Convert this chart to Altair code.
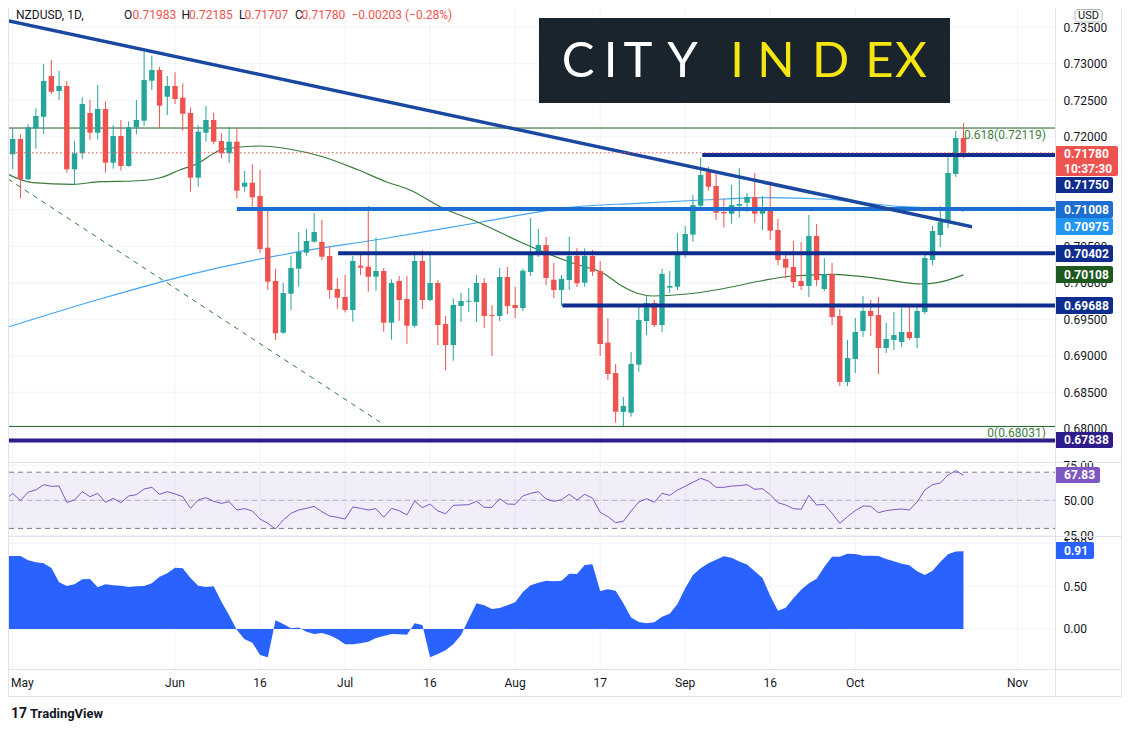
import altair as alt
import pandas as pd

# ---------------- data ----------------
opens = [
    0.71759, 0.71969, 0.71417, 0.72115, 0.72274, 0.72832, 0.72626, 0.72695, 0.71554, 0.71773,
    0.72325, 0.72055, 0.72380, 0.71644, 0.72010, 0.71599, 0.72129, 0.72219, 0.72767, 0.72914,
    0.72548, 0.72695, 0.72535, 0.72325, 0.71439, 0.72055, 0.72229, 0.71941, 0.71773, 0.71932,
    0.71315, 0.71370, 0.71188, 0.70480, 0.70023, 0.69315, 0.69849, 0.70192, 0.70411, 0.70562,
    0.70558, 0.70366, 0.69914, 0.69804, 0.69626, 0.70233, 0.70219, 0.70082, 0.70160, 0.69452,
    0.70023, 0.69777, 0.69411, 0.70297, 0.69763, 0.69996, 0.69434, 0.69146, 0.69681, 0.69740,
    0.69736, 0.69996, 0.69557, 0.69544, 0.70078, 0.69694, 0.69653, 0.70147, 0.70379, 0.70516,
    0.70041, 0.69900, 0.70037, 0.70366, 0.70000, 0.70366, 0.70160, 0.69178, 0.68763, 0.68229,
    0.68219, 0.68877, 0.69475, 0.69722, 0.69420, 0.69932, 0.69945, 0.70393, 0.70658, 0.71055,
    0.71517, 0.71325, 0.70969, 0.70945, 0.71055, 0.71096, 0.71174, 0.70945, 0.71028, 0.70722,
    0.70325, 0.70215, 0.70023, 0.69955, 0.70640, 0.69914, 0.70119, 0.69544, 0.68640, 0.68955,
    0.69338, 0.69612, 0.69557, 0.69105, 0.69215, 0.69188, 0.69325, 0.69242, 0.69599, 0.70311,
    0.70653, 0.70818, 0.71489, 0.71983]
highs = [
    0.72115, 0.72033, 0.72170, 0.72389, 0.72996, 0.73051, 0.72900, 0.72763, 0.71941, 0.72540,
    0.72503, 0.72708, 0.72480, 0.72160, 0.72229, 0.72211, 0.72503, 0.73165, 0.73110, 0.72959,
    0.72832, 0.72882, 0.72732, 0.72403, 0.72160, 0.72421, 0.72329, 0.72047, 0.72137, 0.72115,
    0.71530, 0.71622, 0.71544, 0.71028, 0.70188, 0.69996, 0.70370, 0.70695, 0.70736, 0.70955,
    0.70859, 0.70503, 0.70064, 0.70105, 0.70366, 0.70379, 0.71051, 0.70617, 0.70201, 0.70047,
    0.70092, 0.70092, 0.70434, 0.70444, 0.70379, 0.70037, 0.69544, 0.69786, 0.69863, 0.69927,
    0.70105, 0.70064, 0.69694, 0.70201, 0.70215, 0.69941, 0.70192, 0.70886, 0.70736, 0.70626,
    0.70270, 0.70105, 0.70626, 0.70475, 0.70471, 0.70448, 0.70297, 0.69512, 0.68886, 0.68434,
    0.69051, 0.69667, 0.69822, 0.69763, 0.70188, 0.70160, 0.70681, 0.70777, 0.71201, 0.71708,
    0.71589, 0.71530, 0.71147, 0.71338, 0.71571, 0.71229, 0.71503, 0.71188, 0.71389, 0.70873,
    0.70421, 0.70571, 0.70558, 0.70927, 0.70804, 0.70338, 0.70270, 0.69640, 0.69215, 0.69516,
    0.69818, 0.69763, 0.69804, 0.69448, 0.69599, 0.69653, 0.69694, 0.69681, 0.70421, 0.70777,
    0.71051, 0.71722, 0.72078, 0.72185]
lows = [
    0.71554, 0.71151, 0.71407, 0.71836, 0.72037, 0.72585, 0.72503, 0.71507, 0.71338, 0.71691,
    0.71959, 0.71959, 0.71507, 0.71562, 0.71534, 0.71589, 0.72033, 0.72151, 0.72640, 0.72115,
    0.72297, 0.72448, 0.72082, 0.71247, 0.71315, 0.71932, 0.71896, 0.71704, 0.71644, 0.71156,
    0.71247, 0.71041, 0.70411, 0.69900, 0.69215, 0.69300, 0.69626, 0.69945, 0.70370, 0.70548,
    0.70311, 0.69781, 0.69644, 0.69594, 0.69466, 0.70105, 0.69877, 0.69890, 0.69329, 0.69219,
    0.69479, 0.69160, 0.69384, 0.69640, 0.69749, 0.69146, 0.68804, 0.68931, 0.69462, 0.69599,
    0.69462, 0.69379, 0.68996, 0.69475, 0.69571, 0.69516, 0.69612, 0.70092, 0.70352, 0.69968,
    0.69790, 0.69681, 0.69900, 0.69941, 0.69945, 0.70092, 0.68996, 0.68667, 0.68082, 0.68031,
    0.68164, 0.68781, 0.69283, 0.69393, 0.69325, 0.69859, 0.69900, 0.70343, 0.70562, 0.71014,
    0.71260, 0.70859, 0.70754, 0.70808, 0.70891, 0.70969, 0.70822, 0.70726, 0.70585, 0.70238,
    0.70055, 0.69927, 0.69900, 0.69804, 0.69955, 0.69886, 0.69420, 0.68585, 0.68585, 0.68763,
    0.69256, 0.69270, 0.68749, 0.69037, 0.69078, 0.69119, 0.69215, 0.69105, 0.69571, 0.70242,
    0.70489, 0.70749, 0.71448, 0.71707]
closes = [
    0.71969, 0.71417, 0.72129, 0.72284, 0.72763, 0.72617, 0.72695, 0.71554, 0.71773, 0.72448,
    0.72055, 0.72380, 0.71644, 0.72010, 0.71599, 0.72129, 0.72229, 0.72777, 0.72914, 0.72425,
    0.72695, 0.72517, 0.72315, 0.71439, 0.72069, 0.72229, 0.71932, 0.71773, 0.71932, 0.71260,
    0.71370, 0.71170, 0.70462, 0.70014, 0.69307, 0.69859, 0.70201, 0.70421, 0.70571, 0.70695,
    0.70356, 0.69900, 0.69795, 0.69626, 0.70297, 0.70206, 0.70082, 0.70160, 0.69452, 0.69996,
    0.69763, 0.69411, 0.70297, 0.69763, 0.69996, 0.69420, 0.69146, 0.69694, 0.69749, 0.69753,
    0.69996, 0.69544, 0.69544, 0.70078, 0.69681, 0.69653, 0.70164, 0.70393, 0.70516, 0.70064,
    0.69900, 0.70051, 0.70366, 0.69992, 0.70366, 0.70151, 0.69160, 0.68749, 0.68233, 0.68311,
    0.68886, 0.69489, 0.69722, 0.69420, 0.70119, 0.69955, 0.70407, 0.70667, 0.71064, 0.71475,
    0.71315, 0.70959, 0.70951, 0.71064, 0.71078, 0.71174, 0.70945, 0.71028, 0.70712, 0.70311,
    0.70206, 0.70010, 0.69955, 0.70640, 0.70037, 0.70119, 0.69530, 0.68640, 0.68968, 0.69325,
    0.69612, 0.69544, 0.69105, 0.69229, 0.69283, 0.69325, 0.69242, 0.69612, 0.70338, 0.70708,
    0.70832, 0.71503, 0.71982, 0.71780]

# x-axis: trading-day index of each label
tick_idx = [0, 21, 32, 43, 54, 65, 76, 87, 98, 109, 130]
tick_lab = ["May", "Jun", "16", "Jul", "16", "Aug", "17", "Sep", "16", "Oct", "Nov"]
price_ticks = [0.680, 0.685, 0.690, 0.695, 0.700, 0.705, 0.710, 0.715, 0.720, 0.725, 0.730, 0.735]
hidden_ticks = [0.710, 0.715]   # covered by price tags in the reference
rsi_ticks = [25, 50, 75]
corr_ticks = [0.0, 0.5, 1.0]

# moving averages (sampled vertices)
sma50_idx = [-0.6, 2.6, 7.8, 11.3, 15.6, 19.1, 21.6, 23.8, 27.2, 32.0, 35.9, 40.1, 44.5, 48.4,
             51.4, 55.3, 60.5, 65.6, 69.1, 72.5, 76.4, 78.6, 80.8, 82.8, 87.2, 91.5, 96.7,
             100.9, 106.1, 111.8, 117.8, 119.6, 123]
sma50_val = [0.71485, 0.71370, 0.71348, 0.71384, 0.71393, 0.71438, 0.71544, 0.71626, 0.71828,
             0.71873, 0.71828, 0.71726, 0.71554, 0.71380, 0.71270, 0.71041, 0.70814, 0.70562,
             0.70403, 0.70266, 0.70129, 0.69969, 0.69855, 0.69818, 0.69845, 0.69910, 0.70023,
             0.70092, 0.70115, 0.70060, 0.69982, 0.70000, 0.70108]
sma200_idx = [-0.6, 11.3, 23.0, 35.9, 47.5, 60.5, 72.1, 80.8, 89.3, 98.0, 105.3, 115.2, 122.5, 123]
sma200_val = [0.69393, 0.69777, 0.70115, 0.70403, 0.70595, 0.70828, 0.71033, 0.71088, 0.71133,
              0.71165, 0.71143, 0.71041, 0.70996, 0.70975]

# drawings
trend_idx = [-0.608, 124.1]
trend_val = [0.73589, 0.70767]
dash_idx = [-0.608, 47.5]
dash_val = [0.71421, 0.68092]
level_val = [0.71750, 0.71008, 0.70402, 0.69688]
level_start = [89.2, 29.0, 42.1, 71.1]
fib_val = [0.72119, 0.68031]
fib_lab = ["0.618(0.72119)", "0(0.68031)"]
purple_level = 0.67838

# RSI (first value sits at the left edge)
rsi_edge = 52.59
rsi_vals = [
    54.96, 49.74, 55.91, 57.33, 61.13, 59.94, 60.18, 48.56, 50.22, 56.15,
    52.59, 54.96, 48.56, 51.40, 48.32, 53.06, 54.01, 58.04, 59.23, 54.25,
    56.15, 54.49, 52.59, 44.29, 50.22, 51.88, 49.27, 47.84, 49.03, 43.10,
    44.05, 42.39, 36.70, 33.61, 29.58, 35.98, 40.73, 43.10, 44.29, 45.71,
    41.91, 38.83, 37.88, 36.70, 45.24, 44.29, 43.10, 44.05, 37.88, 44.29,
    42.63, 39.54, 49.50, 44.76, 47.37, 42.39, 40.49, 46.42, 46.66, 46.89,
    49.27, 45.00, 45.00, 51.16, 47.37, 47.13, 53.06, 54.96, 56.15, 50.93,
    49.27, 50.45, 54.25, 50.22, 54.25, 51.64, 41.44, 38.36, 34.09, 35.04,
    42.39, 48.79, 51.16, 48.56, 54.96, 53.54, 57.33, 59.94, 62.79, 65.63,
    63.74, 59.23, 59.23, 60.18, 60.42, 61.13, 57.81, 58.28, 54.01, 48.32,
    46.66, 44.05, 43.57, 53.54, 46.66, 47.13, 40.73, 33.61, 38.36, 42.63,
    45.95, 45.71, 41.20, 42.63, 43.34, 43.81, 43.10, 48.79, 57.33, 61.13,
    62.31, 68.01, 71.09, 67.83]

# correlation coefficient
corr_edge = 0.854
corr_vals = [
    0.854, 0.854, 0.803, 0.780, 0.768, 0.713, 0.546, 0.503, 0.522, 0.581,
    0.585, 0.487, 0.522, 0.511, 0.507, 0.491, 0.499, 0.503, 0.534, 0.612,
    0.651, 0.717, 0.710, 0.597, 0.507, 0.491, 0.499, 0.320, 0.160, -0.012,
    -0.121, -0.160, -0.304, -0.331, 0.101, 0.058, 0.008, 0.016, -0.031, -0.058,
    -0.047, -0.074, -0.117, -0.179, -0.179, -0.168, -0.148, -0.105, -0.082, -0.058,
    -0.062, -0.066, 0.066, 0.047, -0.331, -0.292, -0.249, -0.179, -0.070, 0.117,
    0.300, 0.277, 0.234, 0.246, 0.277, 0.312, 0.433, 0.511, 0.542, 0.565,
    0.558, 0.565, 0.647, 0.643, 0.749, 0.756, 0.444, 0.464, 0.448, 0.300,
    0.133, 0.082, 0.066, 0.078, 0.144, 0.179, 0.292, 0.476, 0.632, 0.710,
    0.768, 0.811, 0.850, 0.834, 0.788, 0.753, 0.675, 0.597, 0.390, 0.214,
    0.249, 0.359, 0.460, 0.534, 0.589, 0.729, 0.846, 0.846, 0.881, 0.877,
    0.858, 0.858, 0.854, 0.819, 0.791, 0.764, 0.745, 0.675, 0.632, 0.682,
    0.784, 0.873, 0.905, 0.910]

# ---------------- layout / style ----------------
W, H1, H2, H3 = 1047, 454, 74, 133
XR = 1114                      # right edge of the frame (plot coords)
XDOM = [-0.608, 134.84]
FONT = "Roboto"
TXT = "#131722"
UP, DN = "#26a69a", "#ef5350"
GRID = "#f0f3fa"
BORDER = "#e0e3eb"
NAVY = "#0e2d8f"
one = pd.DataFrame({"a": [0]})

xs = alt.Scale(domain=XDOM, nice=False, zero=False)
x_noaxis = alt.Axis(grid=False, labels=False, ticks=False, domain=False, title=None)


def yaxis(values, fmt, expr=None):
    kw = dict(orient="right", values=values, format=fmt, grid=False, ticks=False,
              labelPadding=8, labelColor=TXT, labelFontSize=12, labelFont=FONT,
              domain=False, title=None, labelOverlap=False, labelFlush=False)
    if expr:
        kw["labelExpr"] = expr
    return alt.Axis(**kw)


hide_expr = ("(" + " || ".join("abs(datum.value - %s) < 1e-6" % h for h in hidden_ticks)
             + ") ? '' : format(datum.value, '.5f')")
ys1 = alt.Scale(domain=[0.675436, 0.737634], nice=False, zero=False)
ys2 = alt.Scale(domain=[24.60, 77.26], nice=False, zero=False)
ys3 = alt.Scale(domain=[-0.468, 1.0877], nice=False, zero=False)
ya1 = yaxis(price_ticks, ".5f", hide_expr)
ya2 = yaxis(rsi_ticks, ".2f")
ya3 = yaxis(corr_ticks, ".2f")


def X(f):
    return alt.X(f, type="quantitative", scale=xs, axis=x_noaxis)


def Y1(f):
    return alt.Y(f, type="quantitative", scale=ys1, axis=ya1)


def Y2(f):
    return alt.Y(f, type="quantitative", scale=ys2, axis=ya2)


def Y3(f):
    return alt.Y(f, type="quantitative", scale=ys3, axis=ya3)


def box(x0, x1, y0, y1, color=BORDER):
    """Filled strip (used for frame lines so nothing pokes outside the chart)."""
    return alt.Chart(one).mark_rect(color=color).encode(
        x=alt.value(x0), x2=alt.value(x1), y=alt.value(y0), y2=alt.value(y1))


def grids(Yfn, ticks, H):
    xg = alt.Chart(pd.DataFrame({"i": tick_idx})).mark_rule(color=GRID, strokeWidth=1, clip=True).encode(
        x=X("i"), y=alt.value(0), y2=alt.value(H))
    yg = alt.Chart(pd.DataFrame({"p": ticks})).mark_rule(color=GRID, strokeWidth=1, clip=True).encode(
        y=Yfn("p"), x=alt.value(0), x2=alt.value(W))
    return [xg, yg]


def badge(lines, top, bot, fill, width, ptop):
    """Price-scale tag; top/bot are page pixel rows, ptop the panel's top row."""
    layers = [alt.Chart(one).mark_rect(color=fill, cornerRadiusTopRight=2,
                                       cornerRadiusBottomRight=2).encode(
        x=alt.value(W), x2=alt.value(W + width),
        y=alt.value(top - ptop), y2=alt.value(bot - ptop))]
    n = len(lines)
    step = (bot - top) / n
    for k, t in enumerate(lines):
        yc = top + step * (k + 0.5) - ptop
        layers.append(alt.Chart(one).mark_text(
            text=t, align="left", baseline="middle", font=FONT, fontSize=12,
            fontWeight="bold", color="white").encode(x=alt.value(W + 9), y=alt.value(yc)))
    return layers


def text_at(t, x, y, color=TXT, size=12, weight="normal", align="left", font=FONT):
    return alt.Chart(one).mark_text(text=t, align=align, baseline="middle", font=font,
                                    fontSize=size, fontWeight=weight, color=color).encode(
        x=alt.value(x), y=alt.value(y))


# ---------------- main price pane ----------------
cdf = pd.DataFrame({"i": list(range(len(opens))), "o": opens, "h": highs, "l": lows, "c": closes})
cdf["dir"] = ["up" if c >= o else "down" for o, c in zip(opens, closes)]
ccol = alt.Color("dir:N", scale=alt.Scale(domain=["up", "down"], range=[UP, DN]), legend=None)

wicks = alt.Chart(cdf).mark_rule(strokeWidth=1).encode(x=X("i"), y=Y1("l"), y2="h:Q", color=ccol)
bodies = alt.Chart(cdf).transform_calculate(
    x0="datum.i - 0.35", x1="datum.i + 0.35").mark_rect().encode(
    x=X("x0"), x2="x1:Q", y=Y1("o"), y2="c:Q", color=ccol)

sma200 = alt.Chart(pd.DataFrame({"i": sma200_idx, "v": sma200_val})).mark_line(
    color="#42a5f5", strokeWidth=1.2, interpolate="monotone", strokeJoin="round", clip=True
).encode(x=X("i"), y=Y1("v"))
sma50 = alt.Chart(pd.DataFrame({"i": sma50_idx, "v": sma50_val})).mark_line(
    color="#3a7a3a", strokeWidth=1.2, interpolate="monotone", strokeJoin="round", clip=True
).encode(x=X("i"), y=Y1("v"))

fib_df = pd.DataFrame({"p": fib_val, "lab": fib_lab, "x0": XDOM[0], "x1": XDOM[1]})
fib_lines = alt.Chart(fib_df).mark_rule(color="#1b5e20", strokeWidth=1, clip=True).encode(
    x=X("x0"), x2="x1:Q", y=Y1("p"))
fib_text = alt.Chart(fib_df).mark_text(align="right", baseline="middle", dy=7, font=FONT,
                                       fontSize=12, color="#3f7f3f").encode(
    x=alt.value(1038), y=Y1("p"), text="lab:N")

dash_line = alt.Chart(pd.DataFrame({"i": dash_idx, "v": dash_val})).mark_line(
    color="#2e7d32", strokeWidth=1, strokeDash=[5, 5], strokeJoin="round", clip=True
).encode(x=X("i"), y=Y1("v"))

level_colors = [NAVY, "#1c6fd0", NAVY, NAVY]
levels = []
for p, s, col in zip(level_val, level_start, level_colors):
    levels.append(alt.Chart(pd.DataFrame({"p": [p], "x0": [s], "x1": [XDOM[1]]})).mark_rule(
        color=col, strokeWidth=4, clip=True).encode(x=X("x0"), x2="x1:Q", y=Y1("p")))
purple = alt.Chart(pd.DataFrame({"p": [purple_level], "x0": [XDOM[0]], "x1": [XDOM[1]]})).mark_rule(
    color="#2e1b8c", strokeWidth=4, clip=True).encode(x=X("x0"), x2="x1:Q", y=Y1("p"))

# the thick trend line is drawn as a thin filled band (no stroke, so no overhang)
trend = alt.Chart(pd.DataFrame({"i": trend_idx, "v": trend_val})).transform_calculate(
    v1="datum.v + 0.000245", v2="datum.v - 0.000245").mark_area(
    color="#1a48a0", clip=True).encode(x=X("i"), y=Y1("v1"), y2="v2:Q")

last_line = alt.Chart(pd.DataFrame({"p": [closes[-1]], "x0": [XDOM[0]], "x1": [XDOM[1]]})).mark_rule(
    color=DN, strokeWidth=1, strokeDash=[1.5, 2.5], clip=True).encode(x=X("x0"), x2="x1:Q", y=Y1("p"))

# header
header = [
    text_at("NZDUSD, 1D,", 8, 7),
    text_at("O", 116, 7), text_at("%.5f" % opens[-1], 124.5, 7, color=DN),
    text_at("H", 173.5, 7), text_at("%.5f" % highs[-1], 181, 7, color=DN),
    text_at("L", 231, 7), text_at("%.5f" % lows[-1], 236.5, 7, color=DN),
    text_at("C", 287, 7), text_at("%.5f" % closes[-1], 293.5, 7, color=DN),
    text_at("\u22120.00203 (\u22120.28%)", 343.5, 7, color=DN),
]

# CITY INDEX logo
logo = [box(531, 942, 10, 95, "#1a242d")]
for ch, cx, col in [("C", 570, "white"), ("I", 602.5, "white"), ("T", 630, "white"),
                    ("Y", 674.5, "white"), ("I", 729, "#f5e611"), ("N", 768, "#f5e611"),
                    ("D", 822.5, "#f5e611"), ("E", 871.5, "#f5e611"), ("X", 903, "#f5e611")]:
    logo.append(alt.Chart(one).mark_text(text=ch, align="center", baseline="alphabetic",
                                         font="Lato", fontSize=49, color=col).encode(
        x=alt.value(cx), y=alt.value(69)))

# USD tag
usd = [alt.Chart(one).mark_rect(fill="white", stroke="#b2b5be", strokeWidth=1, cornerRadius=3).encode(
    x=alt.value(1067), x2=alt.value(1094), y=alt.value(1.5), y2=alt.value(14)),
    text_at("USD", 1080.5, 8, size=11, align="center")]

P1 = 8
tags1 = []
tags1 += badge(["%.5f" % closes[-1], "10:37:30"], 146, 176, DN, 63, P1)
tags1 += badge(["%.5f" % level_val[0]], 177, 193, NAVY, 58, P1)
tags1 += badge(["%.5f" % level_val[1]], 201, 218, "#1c6fd0", 58, P1)
tags1 += badge(["%.5f" % sma200_val[-1]], 218, 235, "#2196f3", 58, P1)
tags1 += badge(["%.5f" % level_val[2]], 245, 262, NAVY, 58, P1)
tags1 += badge(["%.5f" % sma50_val[-1]], 266, 283, "#1e5a20", 58, P1)
tags1 += badge(["%.5f" % level_val[3]], 297, 314, NAVY, 58, P1)
tags1 += badge(["%.5f" % purple_level], 432, 448, "#2e1b8c", 58, P1)

frame1 = [box(0, 1, 0, H1), box(W, W + 1, 0, H1), box(XR - 1, XR, 0, H1)]

main = alt.layer(
    *grids(Y1, price_ticks, H1),
    sma200, sma50, fib_lines, dash_line, wicks, bodies, *levels, purple, trend, last_line,
    fib_text, *header, *logo, *usd, *tags1, *frame1
).properties(width=W, height=H1)

# ---------------- RSI pane ----------------
rsi_df = pd.DataFrame({"i": [-0.5] + list(range(len(rsi_vals))), "v": [rsi_edge] + rsi_vals})
band = alt.Chart(pd.DataFrame({"top": [70], "bot": [30]})).mark_rect(
    color="#7e57c2", opacity=0.1).encode(
    x=alt.value(1), x2=alt.value(W), y=Y2("top"), y2="bot:Q")
rsi_lv = alt.Chart(pd.DataFrame({"v": [70, 30]})).mark_rule(
    color="#787b86", strokeWidth=1, strokeDash=[5, 4], clip=True).encode(
    y=Y2("v"), x=alt.value(1), x2=alt.value(W))
rsi_mid = alt.Chart(pd.DataFrame({"v": [50]})).mark_rule(
    color="#787b86", strokeWidth=1, strokeDash=[5, 4], opacity=0.5, clip=True).encode(
    y=Y2("v"), x=alt.value(1), x2=alt.value(W))
rsi_line = alt.Chart(rsi_df).mark_line(color="#7e57c2", strokeWidth=1, strokeJoin="round",
                                       clip=True).encode(x=X("i"), y=Y2("v"))
P2 = 462
rsi = alt.layer(
    *grids(Y2, rsi_ticks, H2),
    band, rsi_lv, rsi_mid, rsi_line,
    *badge(["%.2f" % rsi_vals[-1]], 467, 483, "#7e57c2", 45, P2),
    box(0, XR, 0, 1), box(0, 1, 0, H2), box(W, W + 1, 0, H2), box(XR - 1, XR, 0, H2)
).properties(width=W, height=H2)

# ---------------- correlation pane ----------------
corr_df = pd.DataFrame({"i": [-0.5] + list(range(len(corr_vals))), "v": [corr_edge] + corr_vals})
corr_area = alt.Chart(corr_df).mark_area(color="#2962ff", opacity=1, clip=True).encode(
    x=X("i"), y=Y3("v"), y2=alt.datum(0))
tick_df = pd.DataFrame({"i": tick_idx[1:], "lab": tick_lab[1:]})
x_labels = alt.Chart(tick_df).mark_text(align="center", baseline="middle", font=FONT,
                                        fontSize=12, color=TXT).encode(
    x=X("i"), y=alt.value(H3 + 14), text="lab:N")
P3 = 536
corr = alt.layer(
    *grids(Y3, corr_ticks, H3),
    corr_area, x_labels,
    *badge(["%.2f" % corr_vals[-1]], 542, 559, "#2962ff", 39, P3),
    box(0, XR, 0, 1), box(0, XR, H3, H3 + 1), box(0, XR, 160, 161),
    box(0, 1, 0, 161), box(W, W + 1, 0, 161), box(XR - 1, XR, 0, 161),
    text_at(tick_lab[0], 3, H3 + 14),
    text_at("17", 3, 178, size=14, weight="bold"),
    text_at("TradingView", 22, 178, size=13, weight="bold"),
).properties(width=W, height=H3)

chart = alt.vconcat(main, rsi, corr, spacing=0, bounds="flush").resolve_scale(
    y="independent", color="independent"
).properties(padding=0, background="white").configure_view(stroke=None)

chart.save("out.html", embed_options={"renderer": "svg", "actions": False})
